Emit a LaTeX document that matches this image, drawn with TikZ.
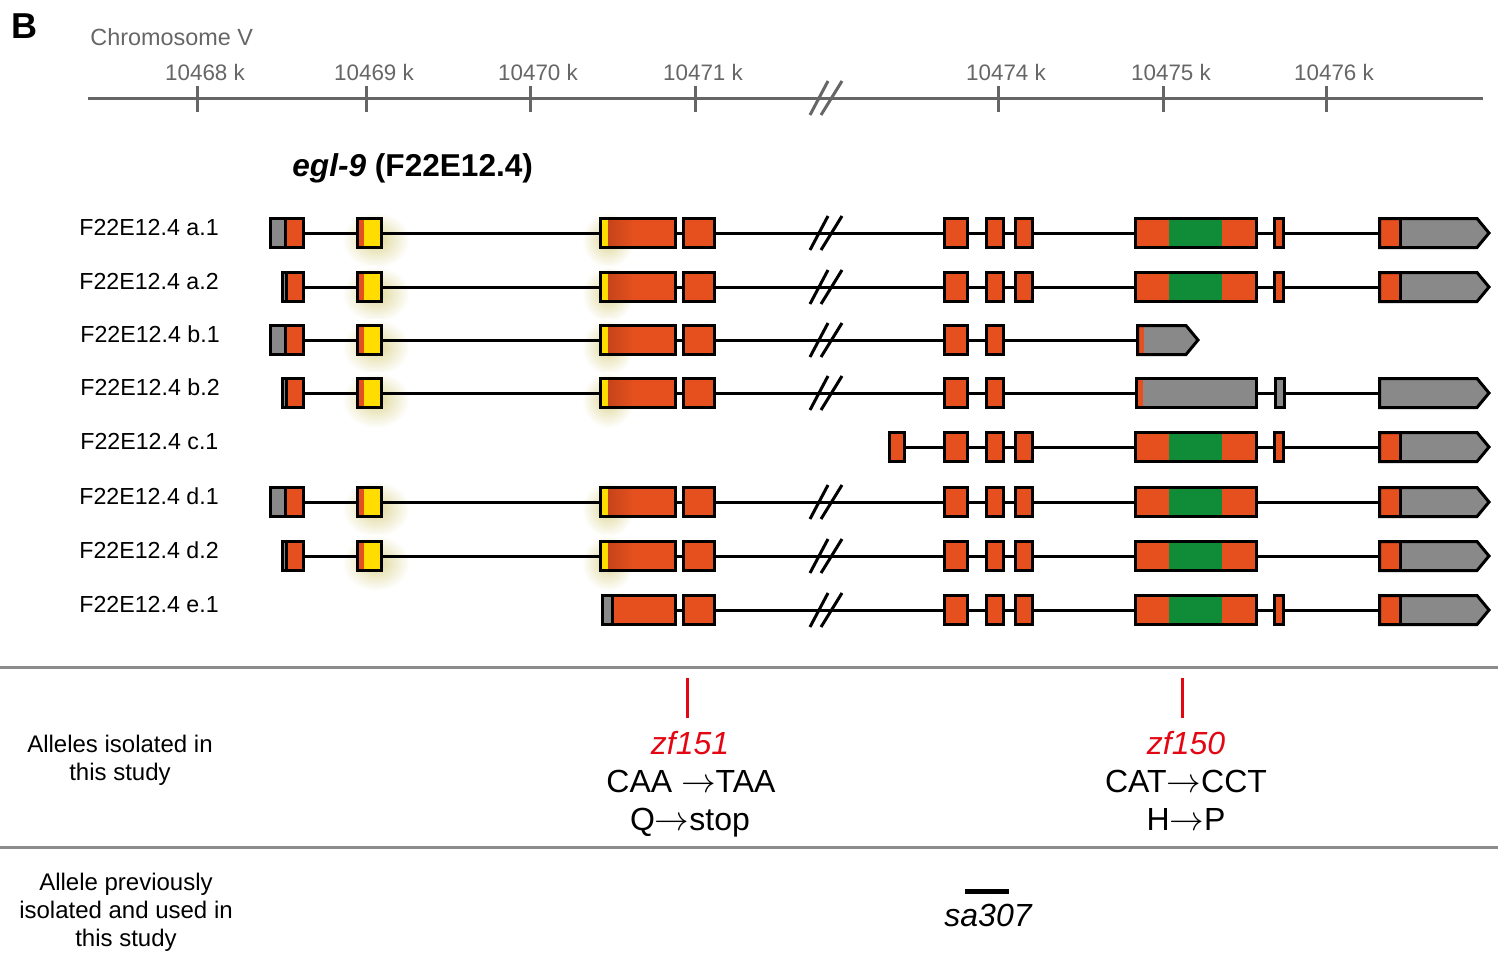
\documentclass[tikz,border=0pt]{standalone}
\usepackage{fontspec}
\setmainfont{Liberation Sans}
\usepackage{xcolor}
\usepackage{tikz}
\usetikzlibrary{positioning}

\definecolor{exonorange}{RGB}{229,80,30}
\definecolor{exondark}{RGB}{198,68,26}
\definecolor{cdsyellow}{RGB}{255,221,0}
\definecolor{domaingreen}{RGB}{16,140,56}
\definecolor{utrgray}{RGB}{137,137,137}
\definecolor{axisgray}{RGB}{102,102,102}
\definecolor{rulegray}{RGB}{140,140,140}
\definecolor{mutred}{RGB}{227,6,19}
\definecolor{glowc}{RGB}{222,214,150}

% plain exon box (x left, x right, row y, fill)
\newcommand{\exonbox}[4]{\draw[exon,fill=#4] (#1,#3-14.5) rectangle (#2,#3+14.5);}
% exon box with two colours (x left, x split, x right, row y, left, right)
\newcommand{\twotone}[6]{%
  \fill[#5] (#1,#4-14.5) rectangle (#2,#4+14.5);
  \fill[#6] (#2,#4-14.5) rectangle (#3,#4+14.5);
  \draw[exon] (#1,#4-14.5) rectangle (#3,#4+14.5);}
% exon carrying the green domain
\newcommand{\domainexon}[1]{%
  \fill[exonorange] (1135.5,#1-14.5) rectangle (1256.5,#1+14.5);
  \fill[domaingreen] (1169,#1-14.5) rectangle (1222,#1+14.5);
  \draw[exon] (1135.5,#1-14.5) rectangle (1256.5,#1+14.5);}
% first coding exon, yellow start then orange
\newcommand{\cdsexon}[1]{%
  \fill[exonorange] (600.5,#1-14.5) rectangle (675.5,#1+14.5);
  \fill[cdsyellow] (600.5,#1-14.5) rectangle (608,#1+14.5);
  \shade[left color=exondark,right color=exonorange] (608,#1-14.5) rectangle (634,#1+14.5);
  \draw[exon] (600.5,#1-14.5) rectangle (675.5,#1+14.5);}
% 3' end with arrow tip (x left, x orange end, x tip start, x tip, row y)
\newcommand{\utrend}[5]{%
  \fill[utrgray] (#1,#5-14.5) -- (#3,#5-14.5) -- (#4,#5) -- (#3,#5+14.5) -- (#1,#5+14.5) -- cycle;
  \fill[exonorange] (#1,#5-14.5) rectangle (#2,#5+14.5);
  \draw[exon] (#1,#5-14.5) -- (#3,#5-14.5) -- (#4,#5) -- (#3,#5+14.5) -- (#1,#5+14.5) -- cycle;}
\newcommand{\lastexon}[1]{%
  \utrend{1379.5}{1400}{1477}{1489}{#1}
  \draw[exon] (1400,#1-14.5) -- (1400,#1+14.5);}
% soft glow behind the yellow parts
\newcommand{\glow}[3][34]{\shade[inner color=glowc,outer color=white] (#2,#3) ellipse (#1 and 28);}
% break mark
\newcommand{\cutmark}[3][black]{%
  \draw[#1,line width=1.5pt] (#2-16,#3+17) -- (#2+2,#3-17);
  \draw[#1,line width=1.5pt] (#2-5,#3+17) -- (#2+16,#3-17);}

\begin{document}
\begin{tikzpicture}[x=0.5pt,y=-0.5pt,
    exon/.style={draw=black, line width=1.5pt},
    intron/.style={line width=1.5pt},
    axisline/.style={draw=axisgray, line width=1.5pt},
    divider/.style={draw=rulegray, line width=1.5pt},
    rowlabel/.style={anchor=base west, inner sep=0pt, font=\fontsize{11.6}{14}\selectfont},
    ticklabel/.style={anchor=base, inner sep=0pt, text=axisgray, font=\fontsize{11.2}{13}\selectfont},
    mutname/.style={anchor=base, inner sep=0pt, text=mutred, font=\fontsize{16}{19}\selectfont\itshape},
    change/.style={anchor=base, inner sep=0pt, font=\fontsize{16}{19}\selectfont},
    sidetext/.style={align=center, inner sep=0pt, font=\fontsize{12}{14}\selectfont}]
    \useasboundingbox (0,0) rectangle (1498,960);

    % panel letter and chromosome scale
    \node[anchor=base west, inner sep=0pt, font=\fontsize{18}{20}\selectfont\bfseries] (panel) at (11,38) {B};
    \node[anchor=base west, inner sep=0pt, text=axisgray, font=\fontsize{11.7}{14}\selectfont] (chrom) at (90,45) {Chromosome V};
    \draw[axisline] (88,98) -- (1483,98);
    \foreach \x/\lab in {197/10468, 366/10469, 530/10470, 695/10471, 998/10474, 1163/10475, 1326/10476} {
        \draw[axisline] (\x,86) -- (\x,112);
        \node[ticklabel] (t\lab) at (\x+8,80) {\lab\ k};
    }
    \cutmark[axisgray]{826}{98}

    % gene name
    \node[anchor=base west, inner sep=0pt, font=\fontsize{15.8}{18}\selectfont\bfseries] (gene) at (292,176) {\textit{egl-9} (F22E12.4)};

    % isoform names
    \node[rowlabel] (a1) at (79,235) {F22E12.4 a.1};
    \node[rowlabel] (a2) at (79,289) {F22E12.4 a.2};
    \node[rowlabel] (b1) at (80,342) {F22E12.4 b.1};
    \node[rowlabel] (b2) at (80,395) {F22E12.4 b.2};
    \node[rowlabel] (c1) at (80,449) {F22E12.4 c.1};
    \node[rowlabel] (d1) at (79,504) {F22E12.4 d.1};
    \node[rowlabel] (d2) at (79,558) {F22E12.4 d.2};
    \node[rowlabel] (e1) at (79,612) {F22E12.4 e.1};

    % glow behind the yellow exons
    \foreach \y in {233,287,340,393,502,556} {
        \glow{376}{\y+7}
        \glow[26]{608}{\y+7}
    }

    % introns
    \foreach \y in {233,287,393,502,556} {
        \draw[intron] (290,\y) -- (1400,\y);
    }
    \draw[intron] (290,340) -- (1140,340);
    \draw[intron] (897,447) -- (1400,447);
    \draw[intron] (605,610) -- (1400,610);
    \foreach \y in {233,287,340,393,502,556,610} {
        \cutmark{826}{\y}
    }

    % a.1
    \exonbox{270.5}{285.5}{233}{utrgray}
    \exonbox{285.5}{303.5}{233}{exonorange}
    \twotone{357.5}{364}{381.5}{233}{exonorange}{cdsyellow}
    \cdsexon{233}
    \exonbox{683.5}{714.5}{233}{exonorange}
    \exonbox{944.5}{967.5}{233}{exonorange}
    \exonbox{986.5}{1003.5}{233}{exonorange}
    \exonbox{1015.5}{1032.5}{233}{exonorange}
    \domainexon{233}
    \exonbox{1274.5}{1283.5}{233}{exonorange}
    \lastexon{233}

    % a.2
    \exonbox{282.5}{286.5}{287}{utrgray}
    \exonbox{286.5}{303.5}{287}{exonorange}
    \twotone{357.5}{364}{381.5}{287}{exonorange}{cdsyellow}
    \cdsexon{287}
    \exonbox{683.5}{714.5}{287}{exonorange}
    \exonbox{944.5}{967.5}{287}{exonorange}
    \exonbox{986.5}{1003.5}{287}{exonorange}
    \exonbox{1015.5}{1032.5}{287}{exonorange}
    \domainexon{287}
    \exonbox{1274.5}{1283.5}{287}{exonorange}
    \lastexon{287}

    % b.1
    \exonbox{270.5}{285.5}{340}{utrgray}
    \exonbox{285.5}{303.5}{340}{exonorange}
    \twotone{357.5}{364}{381.5}{340}{exonorange}{cdsyellow}
    \cdsexon{340}
    \exonbox{683.5}{714.5}{340}{exonorange}
    \exonbox{944.5}{967.5}{340}{exonorange}
    \exonbox{986.5}{1003.5}{340}{exonorange}
    \utrend{1137.5}{1144}{1186}{1198}{340}

    % b.2
    \exonbox{282.5}{286.5}{393}{utrgray}
    \exonbox{286.5}{303.5}{393}{exonorange}
    \twotone{357.5}{364}{381.5}{393}{exonorange}{cdsyellow}
    \cdsexon{393}
    \exonbox{683.5}{714.5}{393}{exonorange}
    \exonbox{944.5}{967.5}{393}{exonorange}
    \exonbox{986.5}{1003.5}{393}{exonorange}
    \twotone{1136.5}{1143}{1256.5}{393}{exonorange}{utrgray}
    \exonbox{1275}{1284}{393}{utrgray}
    \utrend{1379.5}{1379.5}{1477}{1489}{393}

    % c.1
    \exonbox{889.5}{904.5}{447}{exonorange}
    \exonbox{944.5}{967.5}{447}{exonorange}
    \exonbox{986.5}{1003.5}{447}{exonorange}
    \exonbox{1015.5}{1032.5}{447}{exonorange}
    \domainexon{447}
    \exonbox{1274.5}{1283.5}{447}{exonorange}
    \lastexon{447}

    % d.1
    \exonbox{270.5}{285.5}{502}{utrgray}
    \exonbox{285.5}{303.5}{502}{exonorange}
    \twotone{357.5}{364}{381.5}{502}{exonorange}{cdsyellow}
    \cdsexon{502}
    \exonbox{683.5}{714.5}{502}{exonorange}
    \exonbox{944.5}{967.5}{502}{exonorange}
    \exonbox{986.5}{1003.5}{502}{exonorange}
    \exonbox{1015.5}{1032.5}{502}{exonorange}
    \domainexon{502}
    \lastexon{502}

    % d.2
    \exonbox{282.5}{286.5}{556}{utrgray}
    \exonbox{286.5}{303.5}{556}{exonorange}
    \twotone{357.5}{364}{381.5}{556}{exonorange}{cdsyellow}
    \cdsexon{556}
    \exonbox{683.5}{714.5}{556}{exonorange}
    \exonbox{944.5}{967.5}{556}{exonorange}
    \exonbox{986.5}{1003.5}{556}{exonorange}
    \exonbox{1015.5}{1032.5}{556}{exonorange}
    \domainexon{556}
    \lastexon{556}

    % e.1
    \exonbox{602.5}{612.5}{610}{utrgray}
    \exonbox{612.5}{675.5}{610}{exonorange}
    \exonbox{683.5}{714.5}{610}{exonorange}
    \exonbox{944.5}{967.5}{610}{exonorange}
    \exonbox{986.5}{1003.5}{610}{exonorange}
    \exonbox{1015.5}{1032.5}{610}{exonorange}
    \domainexon{610}
    \exonbox{1274.5}{1283.5}{610}{exonorange}
    \lastexon{610}

    % allele panels
    \draw[divider] (0,667) -- (1498,667);
    \draw[divider] (0,847) -- (1498,847);
    \node[sidetext] (isolated) at (120,760) {Alleles isolated in\\this study};
    \node[sidetext] (previous) at (126,912) {Allele previously\\isolated and used in\\this study};

    \draw[mutred, line width=1.5pt] (687,678) -- (687,718);
    \node[mutname] (zf151) at (690,754) {zf151};
    \node[change] (caa) at (691,792) {CAA $\rightarrow$TAA};
    \node[change] (qstop) at (690,830) {Q$\rightarrow$stop};

    \draw[mutred, line width=1.5pt] (1182,678) -- (1182,718);
    \node[mutname] (zf150) at (1186,754) {zf150};
    \node[change] (cat) at (1186,792) {CAT$\rightarrow$CCT};
    \node[change] (hp) at (1186,830) {H$\rightarrow$P};

    \draw[line width=2.5pt] (965,891.5) -- (1009,891.5);
    \node[change, font=\fontsize{16}{19}\selectfont\itshape] (sa307) at (988,926) {sa307};
\end{tikzpicture}
\end{document}
